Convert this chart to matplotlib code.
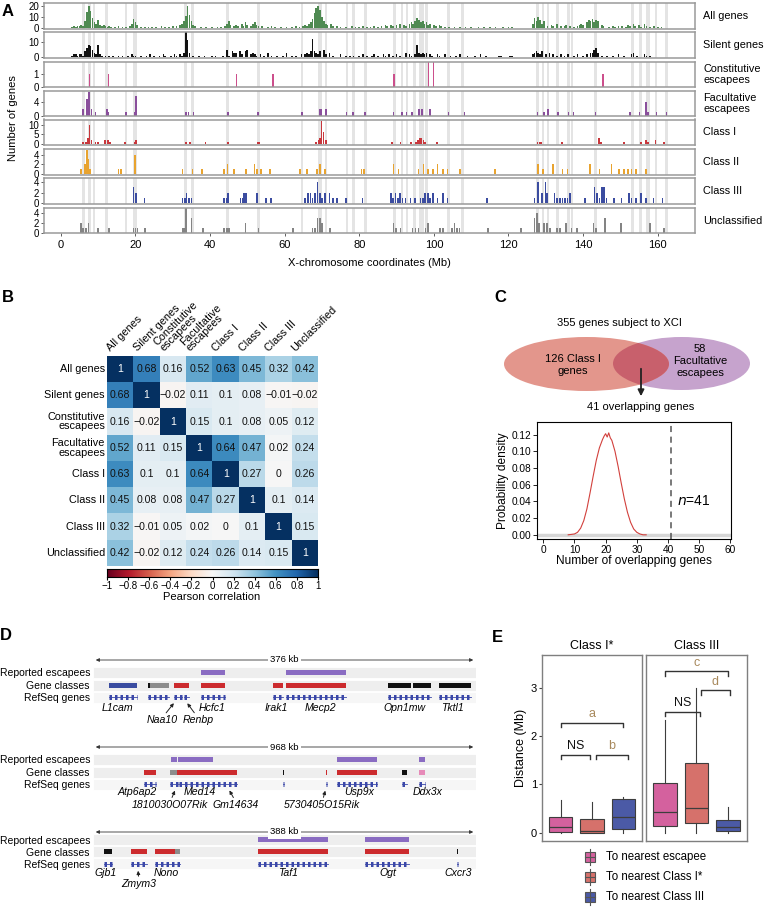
import numpy as np
import matplotlib
matplotlib.use('Agg')
import matplotlib.pyplot as plt
from matplotlib.patches import Ellipse, Rectangle

plt.rcParams['font.family'] = ['Liberation Sans', 'DejaVu Sans']

# ---------------------------------------------------------------- data: panel A
ALL_GENES = [(3.0,1),(3.5,2),(4.0,1),(4.5,2),(5.0,2),(5.5,3),(6.0,2),(6.5,6),(7.0,14),(7.5,20),(8.0,15),(8.5,9),(9.0,5),(9.5,4),(10.0,7),(10.5,3),(11.0,2),(11.5,3),(12.0,2),(12.5,1),(13.0,2),(13.5,1),(14.5,1),(15.5,2),(16.5,1),(17.5,1),(18.5,2),(19.0,4),(19.5,8),(20.0,5),(20.5,3),(21.5,1),(22.5,1),(23.5,1),(24.5,1),(25.5,1),(27.0,2),(28.0,1),(29.0,1),(30.0,2),(31.0,2),(32.0,3),(32.5,4),(33.0,6),(33.5,11),(34.0,20),(34.5,12),(35.0,6),(35.5,3),(36.0,2),(37.5,1),(39.0,1),(40.5,1),(42.0,1),(43.0,1),(44.0,2),(44.5,4),(45.0,6),(45.5,3),(46.5,2),(47.0,3),(47.5,2),(48.5,4),(49.0,2),(49.5,5),(50.0,3),(51.0,2),(51.5,4),(52.0,5),(52.5,3),(53.0,2),(54.0,2),(55.5,1),(56.5,2),(57.5,1),(59.0,1),(60.5,1),(62.0,1),(63.0,2),(64.0,1),(65.0,2),(65.5,3),(66.0,2),(66.5,4),(67.0,5),(67.5,8),(68.0,13),(68.5,18),(69.0,20),(69.5,16),(70.0,10),(70.5,6),(71.0,4),(71.5,3),(72.5,4),(73.0,2),(74.0,2),(75.0,1),(76.5,1),(78.0,2),(79.0,1),(80.0,1),(81.0,2),(82.0,1),(83.0,1),(84.0,2),(85.0,1),(86.0,2),(87.0,3),(87.5,2),(88.5,3),(89.0,2),(90.0,3),(91.0,4),(92.0,3),(92.5,2),(93.5,4),(94.0,5),(94.5,4),(95.0,6),(95.5,9),(96.0,7),(96.5,5),(97.0,6),(97.5,4),(98.0,5),(98.5,3),(99.0,4),(100.0,3),(100.5,2),(101.5,3),(102.0,2),(103.0,1),(104.0,1),(105.5,1),(107.0,1),(108.5,1),(110.0,1),(112.0,1),(113.5,1),(115.0,1),(116.5,1),(118.5,1),(120.0,1),(121.0,1),(126.5,4),(127.0,9),(127.5,6),(128.0,10),(128.5,7),(129.0,4),(129.5,6),(130.5,2),(131.5,3),(132.0,2),(133.0,4),(134.0,2),(135.0,2),(135.5,3),(136.5,2),(137.5,1),(138.5,2),(139.0,3),(139.5,4),(140.0,3),(141.0,5),(141.5,7),(142.0,6),(142.5,8),(143.0,5),(143.5,7),(144.0,6),(145.0,3),(145.5,2),(147.0,1),(148.0,2),(148.5,1),(149.5,2),(150.5,2),(151.5,1),(152.0,3),(152.5,2),(153.5,4),(154.0,2),(155.0,3),(155.5,1),(156.5,4),(157.0,2),(158.0,1),(159.0,2),(160.0,1),(161.0,1)]
SILENT_GENES = [(3.0,1),(3.5,2),(4.0,2),(4.5,1),(5.0,2),(5.5,2),(6.0,1),(6.5,4),(7.0,6),(7.5,8),(8.0,7),(8.5,5),(9.0,3),(9.5,2),(10.0,8),(10.5,2),(11.0,1),(12.0,1),(13.0,1),(14.0,1),(15.5,1),(16.5,1),(18.0,1),(19.0,2),(19.5,1),(20.0,1),(21.5,1),(23.0,1),(24.0,2),(25.0,1),(26.5,1),(27.5,2),(28.0,1),(29.5,1),(30.5,2),(31.0,1),(32.0,2),(32.5,1),(33.0,3),(33.5,16),(34.0,11),(34.5,3),(35.5,1),(37.0,1),(38.5,1),(40.5,1),(41.5,1),(43.5,1),(44.5,5),(45.0,1),(46.0,4),(46.5,3),(47.0,3),(48.0,4),(48.5,2),(49.5,4),(50.0,5),(51.0,2),(51.5,3),(52.0,2),(52.5,1),(53.5,2),(54.5,1),(55.5,3),(56.5,1),(58.0,1),(59.5,1),(60.5,3),(62.0,1),(63.0,1),(64.5,2),(65.5,2),(66.0,3),(66.5,2),(67.0,4),(67.5,12),(68.0,4),(68.5,3),(69.0,2),(69.5,4),(70.5,5),(71.0,2),(72.0,3),(73.0,1),(75.0,2),(76.5,1),(77.5,1),(78.5,1),(80.0,1),(81.0,2),(82.0,1),(83.5,1),(84.0,2),(85.0,1),(86.5,2),(87.0,1),(88.0,2),(89.0,1),(90.0,2),(91.0,1),(92.5,3),(93.5,2),(94.0,1),(95.0,2),(95.5,8),(96.0,3),(96.5,2),(97.0,3),(97.5,2),(98.0,3),(99.0,2),(99.5,1),(101.0,2),(101.5,1),(103.0,2),(104.5,1),(106.0,1),(107.0,2),(109.0,1),(111.0,1),(112.5,2),(114.0,1),(117.5,1),(118.0,1),(120.5,1),(121.0,1),(126.5,2),(127.0,3),(127.5,4),(128.0,3),(128.5,2),(129.0,4),(130.0,2),(131.0,3),(132.0,2),(133.0,1),(134.0,2),(135.0,1),(136.0,2),(137.5,1),(138.5,2),(140.0,1),(141.0,2),(142.0,3),(142.5,3),(143.0,5),(143.5,6),(144.0,3),(145.0,1),(146.5,1),(148.0,1),(149.5,2),(151.0,1),(153.0,2),(153.5,3),(154.5,1),(156.5,2),(157.0,1),(158.0,1)]
CONSTITUTIVE = [(7.7,1),(12.8,1),(47.1,1),(56.8,1),(89.4,1),(98.6,2),(99.9,2),(145.3,1)]
FACULTATIVE = [(6.0,2),(7.0,5),(7.6,7),(8.2,2),(9.3,1),(12.3,2),(12.8,1),(17.5,1),(19.8,1),(20.2,6),(33.6,1),(34.2,1),(35.6,1),(44.8,1),(52.9,1),(64.7,1),(69.5,2),(69.9,2),(71.0,2),(76.6,1),(78.3,1),(81.6,1),(89.2,1),(91.4,1),(92.7,1),(94.1,1),(96.0,2),(96.9,2),(99.0,2),(103.9,1),(108.2,1),(127.8,1),(129.5,1),(130.6,2),(133.2,1),(136.1,1),(137.4,1),(143.3,1),(152.5,1),(155.1,1),(156.9,4),(157.4,1),(159.7,1),(162.4,1)]
CLASS_I = [(6.0,1),(6.8,1),(7.3,3),(7.7,10),(8.2,2),(9.3,1),(10.0,1),(11.9,2),(12.6,2),(13.2,1),(17.2,1),(19.8,1),(20.2,2),(33.6,1),(34.6,1),(38.8,1),(44.8,1),(52.9,1),(53.3,1),(68.4,1),(69.1,2),(69.5,3),(69.9,12),(70.4,6),(71.0,2),(88.8,1),(91.1,1),(93.8,1),(95.3,1),(95.8,2),(96.2,3),(96.7,3),(97.2,2),(97.7,1),(100.8,1),(127.8,1),(128.3,1),(128.8,1),(134.4,1),(144.3,3),(144.8,1),(150.9,1),(155.5,1),(156.9,2),(157.4,1),(159.4,2),(161.7,1)]
CLASS_II = [(5.4,1),(6.5,2),(7.0,5),(7.4,3),(7.9,1),(15.5,1),(16.2,1),(19.9,4),(32.6,1),(35.3,1),(37.9,1),(43.8,1),(44.7,2),(46.5,1),(49.7,1),(51.9,2),(52.6,1),(53.7,1),(56.0,1),(64.2,1),(66.0,1),(68.6,1),(69.4,2),(70.8,1),(80.6,1),(81.3,1),(89.2,2),(90.5,1),(95.9,1),(97.2,2),(98.5,1),(99.8,1),(101.0,2),(102.4,1),(103.7,1),(107.0,1),(116.4,1),(127.9,2),(129.2,1),(131.9,2),(134.5,1),(135.8,1),(141.8,2),(144.4,1),(147.6,2),(149.6,1),(151.0,1),(152.0,1),(153.0,1),(154.2,1),(156.9,1)]
CLASS_III = [(19.5,3),(20.2,2),(22.4,1),(32.6,1),(33.3,1),(33.7,2),(34.3,1),(35.0,1),(43.8,1),(44.5,1),(44.9,2),(48.2,1),(48.7,1),(49.2,2),(49.7,2),(52.6,2),(55.0,1),(56.3,1),(65.5,1),(66.2,2),(66.9,2),(67.5,1),(68.1,2),(68.8,4),(69.4,2),(70.1,1),(70.8,2),(72.0,2),(73.0,1),(74.0,1),(76.4,1),(80.9,1),(88.5,2),(89.1,1),(89.7,2),(90.3,1),(90.9,2),(91.6,1),(92.4,1),(93.7,1),(95.0,1),(96.4,1),(97.0,1),(97.7,2),(98.4,2),(99.0,1),(99.7,2),(101.0,1),(102.4,2),(103.7,1),(114.2,1),(127.0,1),(127.9,4),(129.0,2),(129.9,4),(130.3,2),(132.3,2),(133.1,1),(133.9,1),(134.5,1),(135.1,1),(135.8,1),(136.5,2),(140.5,1),(143.1,3),(143.7,2),(144.4,1),(145.0,3),(145.6,3),(146.3,1),(148.3,1),(150.3,1),(152.3,2),(153.0,1),(154.2,1),(155.6,2),(156.9,1),(158.9,1),(161.3,1)]
UNCLASSIFIED = [(5.4,2),(5.9,1),(6.7,1),(7.4,2),(10.0,1),(12.9,1),(19.5,1),(20.0,1),(20.6,1),(22.6,1),(32.6,1),(33.1,1),(33.6,5),(35.0,3),(38.2,1),(43.8,1),(44.5,1),(45.1,1),(49.5,2),(53.0,1),(62.2,1),(67.5,1),(68.2,1),(68.8,3),(69.4,3),(70.1,2),(72.2,1),(89.2,2),(89.8,1),(91.1,1),(94.3,1),(95.1,1),(95.9,1),(97.8,1),(98.4,2),(101.7,1),(102.4,1),(104.9,1),(105.5,2),(106.2,1),(106.9,1),(114.6,1),(123.4,1),(127.0,3),(127.6,4),(128.2,2),(129.5,2),(130.3,2),(131.2,1),(133.0,1),(133.9,1),(135.5,2),(136.9,1),(138.4,1),(142.8,2),(143.5,1),(145.8,3),(150.1,2),(158.0,2),(161.7,1)]
# grey highlight bands (centre Mb, width Mb)
BANDS = [(6.0,0.8),(7.7,0.9),(8.9,0.6),(12.3,0.8),(17.5,0.7),(20.0,1.1),(33.3,0.8),(35.2,0.8),(44.8,0.8),(52.9,0.8),(64.7,0.7),(69.6,1.1),(71.0,0.6),(76.7,0.7),(78.5,0.7),(81.6,0.7),(89.4,0.7),(91.4,0.6),(92.7,0.6),(94.7,0.8),(96.7,1.3),(98.0,0.6),(103.9,0.8),(107.8,0.8),(127.8,0.7),(129.3,0.6),(130.6,0.6),(133.2,0.7),(136.1,0.6),(137.1,0.6),(143.3,0.7),(153.2,0.7),(155.5,0.8),(157.4,1.2),(159.5,0.7),(162.4,0.7)]
TRACK_NAMES = ['All genes', 'Silent genes', 'Constitutive\nescapees', 'Facultative\nescapees',
               'Class I', 'Class II', 'Class III', 'Unclassified']
TRACK_DATA = [ALL_GENES, SILENT_GENES, CONSTITUTIVE, FACULTATIVE, CLASS_I, CLASS_II, CLASS_III, UNCLASSIFIED]
TRACK_COLORS = ['#4f8a52', '#111111', '#cc4f8c', '#8a4f9c', '#c8373c', '#e8a32f', '#3b4ca0', '#848484']
TRACK_YMAX = [22, 16, 2, 7.5, 12.6, 5.2, 4.7, 5]
TRACK_YTICKS = [[0, 10, 20], [0, 10], [0, 1], [0, 4], [0, 5, 10], [0, 2, 4], [0, 2, 4], [0, 2, 4]]
XTICKS_A = [0, 20, 40, 60, 80, 100, 120, 140, 160]

# ---------------------------------------------------------------- data: panel B
CORR_LABELS = ['All genes', 'Silent genes', 'Constitutive\nescapees', 'Facultative\nescapees',
               'Class I', 'Class II', 'Class III', 'Unclassified']
CORR = [[1, 0.68, 0.16, 0.52, 0.63, 0.45, 0.32, 0.42],
        [0.68, 1, -0.02, 0.11, 0.1, 0.08, -0.01, -0.02],
        [0.16, -0.02, 1, 0.15, 0.1, 0.08, 0.05, 0.12],
        [0.52, 0.11, 0.15, 1, 0.64, 0.47, 0.02, 0.24],
        [0.63, 0.1, 0.1, 0.64, 1, 0.27, 0, 0.26],
        [0.45, 0.08, 0.08, 0.47, 0.27, 1, 0.1, 0.14],
        [0.32, -0.01, 0.05, 0.02, 0, 0.1, 1, 0.15],
        [0.42, -0.02, 0.12, 0.24, 0.26, 0.14, 0.15, 1]]
CBAR_TICKS = [-1, -0.8, -0.6, -0.4, -0.2, 0, 0.2, 0.4, 0.6, 0.8, 1]

# ---------------------------------------------------------------- data: panel C
N_SUBJECT = 355
N_CLASS_I = 126
N_FACULTATIVE = 58
N_OVERLAP = 41
DENS_X = [8, 10, 11, 12, 13, 14, 15, 16, 17, 18, 19, 19.5, 20, 20.5, 21, 21.5, 22, 23, 24, 25, 26, 27, 28, 29, 30, 31, 32, 33]
DENS_Y = [0.0, 0.001, 0.003, 0.008, 0.017, 0.031, 0.05, 0.07, 0.089, 0.104, 0.114, 0.118, 0.121, 0.117,
          0.122, 0.116, 0.113, 0.1, 0.082, 0.062, 0.043, 0.027, 0.015, 0.007, 0.003, 0.001, 0.0, 0.0]

# ---------------------------------------------------------------- data: panel D (kb within window)
WIN_KB = [376, 968, 388]
ESCAPEES = [[(105, 129), (189, 249)],
            [(194, 210), (212, 301), (618, 720), (827, 843)],
            [(167, 238), (276, 321)]]
CLASSES = [[(14, 42, 'III'), (53, 55, 'S'), (55, 73, 'U'), (78, 93, 'I'), (105, 129, 'I'), (177, 187, 'I'),
            (189, 249, 'I'), (291, 313, 'S'), (315, 333, 'S'), (341, 373, 'S')],
           [(125, 156, 'I'), (192, 210, 'U'), (210, 363, 'I'), (479, 482, 'S'), (589, 592, 'I'),
            (618, 720, 'I'), (784, 797, 'S'), (827, 843, 'C')],
           [(9, 17, 'S'), (37, 53, 'I'), (62, 82, 'I'), (82, 87, 'U'), (167, 238, 'I'), (276, 321, 'I'),
            (370, 372, 'S')]]
REFSEQ = [[(14, 42), (53, 73), (78, 86), (88, 93), (105, 129), (177, 187), (189, 249), (291, 333), (341, 373)],
          [(125, 156), (192, 212), (214, 300), (300, 363), (479, 482), (589, 592), (618, 720), (784, 797), (827, 843)],
          [(9, 17), (37, 53), (62, 87), (167, 238), (276, 321), (370, 372)]]
# (name, label position kb, row, arrow target kb or None)
GENE_LABELS = [[('L1cam', 22, 1, None), ('Hcfc1', 116, 1, None), ('Irak1', 180, 1, None), ('Mecp2', 224, 1, None),
                ('Opn1mw', 307, 1, None), ('Tktl1', 355, 1, None), ('Naa10', 67, 2, 80), ('Renbp', 102, 2, 90)],
               [('Atp6ap2', 107, 1, None), ('Med14', 268, 1, None), ('Usp9x', 674, 1, None), ('Ddx3x', 850, 1, None),
                ('1810030O07Rik', 192, 2, 207), ('Gm14634', 360, 2, 340), ('5730405O15Rik', 580, 2, 590)],
               [('Gjb1', 11, 1, None), ('Nono', 73, 1, None), ('Taf1', 198, 1, None), ('Ogt', 300, 1, None),
                ('Cxcr3', 372, 1, None), ('Zmym3', 45, 2, 44)]]
CLASS_COLORS = {'I': '#cc2b2e', 'III': '#3a4ca0', 'S': '#111111', 'U': '#8c8c8c', 'C': '#e68ab8'}

# ---------------------------------------------------------------- data: panel E
FACETS = ['Class I*', 'Class III']
GROUPS = ['To nearest escapee', 'To nearest Class I*', 'To nearest Class III']
GROUP_COLORS = ['#d4619e', '#d6716b', '#4b5aa6']
# whislo, q1, med, q3, whishi
BOX_STATS = [[[0, 0.02, 0.12, 0.32, 0.68], [0, 0.0, 0.03, 0.28, 0.63], [0, 0.08, 0.33, 0.69, 0.75]],
             [[0, 0.15, 0.43, 1.04, 2.33], [0, 0.21, 0.51, 1.44, 3.0], [0, 0.03, 0.12, 0.26, 0.54]]]
# facet, x1, x2, y, label
BRACKETS = [(0, 1, 3, 2.28, 'a'), (0, 1, 1.95, 1.62, 'NS'), (0, 2.12, 3.15, 1.62, 'b'),
            (1, 1, 3, 3.34, 'c'), (1, 2.13, 3.06, 2.95, 'd'), (1, 1, 2.1, 2.51, 'NS')]

# ================================================================ figure
W, H = 767, 908
fig = plt.figure(figsize=(W / 100, H / 100), dpi=100)


def add_ax(l, t, r, b):
    return fig.add_axes([l / W, 1 - b / H, (r - l) / W, (b - t) / H])


def ftext(x, y, s, **kw):
    return fig.text(x / W, 1 - y / H, s, **kw)


# ---------------------------------------------------------------- panel A
tops = [3.3, 32.5, 61.8, 90.8, 119.5, 149.0, 178.4, 207.8]
for i, (name, data, col, ymax, yt) in enumerate(zip(TRACK_NAMES, TRACK_DATA, TRACK_COLORS, TRACK_YMAX, TRACK_YTICKS)):
    ax = add_ax(44, tops[i], 695, tops[i] + 25.5)
    for c, w in BANDS:
        ax.axvspan(c - w / 2, c + w / 2, color='#e4e4e4', lw=0, zorder=0)
    pos = [p for p, n in data]
    cnt = [n for p, n in data]
    ax.bar(pos, cnt, width=0.45, color=col, lw=0, zorder=2)
    ax.set_xlim(-4.5, 170)
    ax.set_ylim(-ymax * 0.03, ymax)
    ax.set_yticks(yt)
    ax.tick_params(axis='y', labelsize=7, length=2.5, width=0.6, pad=1, color='#444')
    for s in ax.spines.values():
        s.set_color('#9a9a9a')
        s.set_linewidth(1.1)
    ax.text(1.013, 0.5, name, transform=ax.transAxes, va='center', ha='left', fontsize=7.8,
            linespacing=1.05)
    if i < len(TRACK_NAMES) - 1:
        ax.set_xticks([])
    else:
        ax.set_xticks(XTICKS_A)
        ax.tick_params(axis='x', labelsize=8, length=2.5, width=0.6, pad=2, color='#444')
        ax.set_xlabel('X-chromosome coordinates (Mb)', fontsize=8, labelpad=6)
ftext(13, 118, 'Number of genes', rotation=90, va='center', ha='center', fontsize=8)

# ---------------------------------------------------------------- panel B
corr = np.array(CORR, dtype=float)
axh = add_ax(107, 356, 318, 566)
axh.imshow(corr, cmap='RdBu', vmin=-1, vmax=1, aspect='auto', interpolation='nearest')
for r in range(corr.shape[0]):
    for c in range(corr.shape[1]):
        v = corr[r, c]
        s = ('%g' % v).replace('-', '\u2212')
        axh.text(c, r, s, ha='center', va='center', fontsize=7.6,
                 color='white' if abs(v) > 0.7 else '#111111')
axh.set_xticks([])
axh.set_yticks([])
for s in axh.spines.values():
    s.set_visible(False)
for r, lab in enumerate(CORR_LABELS):
    axh.text(-0.58, r, lab, ha='right', va='center', fontsize=7.8, linespacing=0.92)
for c, lab in enumerate(CORR_LABELS):
    axh.text(c - 0.3, -0.6, lab, ha='left', va='bottom', rotation=45, rotation_mode='anchor',
             fontsize=7.8, linespacing=0.85)
axc = add_ax(107, 569, 318, 577)
grad = np.linspace(-1, 1, 256)[None, :]
axc.imshow(grad, cmap='RdBu', vmin=-1, vmax=1, aspect='auto', extent=(-1, 1, 0, 1))
axc.set_yticks([])
axc.set_xticks(CBAR_TICKS)
axc.set_xticklabels([('%g' % t).replace('-', '\u2212') for t in CBAR_TICKS])
axc.tick_params(axis='x', labelsize=7, length=2, pad=1)
for s in axc.spines.values():
    s.set_linewidth(0.8)
ftext(212, 597, 'Pearson correlation', ha='center', va='center', fontsize=8)

# ---------------------------------------------------------------- panel C venn
axv = add_ax(480, 310, 767, 415)
axv.set_xlim(480, 767)
axv.set_ylim(415, 310)
axv.axis('off')
pur = Ellipse((681.5, 363.5), 137, 53, facecolor='#c6a3cd', edgecolor='none')
red = Ellipse((586.5, 364), 165, 54, facecolor='#e3968c', edgecolor='none')
ov = Ellipse((586.5, 364), 165, 54, facecolor='#c8606c', edgecolor='none')
axv.add_patch(pur)
axv.add_patch(red)
axv.add_patch(ov)
ov.set_clip_path(pur)
axv.text(619, 323, '%d genes subject to XCI' % N_SUBJECT, ha='center', va='center', fontsize=8)
axv.text(573, 365, '%d Class I\ngenes' % N_CLASS_I, ha='center', va='center', fontsize=8, linespacing=1.25)
axv.text(700, 361, '%d\nFacultative\nescapees' % N_FACULTATIVE, ha='center', va='center', fontsize=8,
         linespacing=1.2)
axv.annotate('', xy=(641, 399), xytext=(641, 366),
             arrowprops=dict(arrowstyle='-|>', color='#222222', lw=1.3, mutation_scale=9))
axv.text(641, 407, '%d overlapping genes' % N_OVERLAP, ha='center', va='center', fontsize=8)

# ---------------------------------------------------------------- panel C density
axd = add_ax(537, 422, 731, 539)
axd.axhline(0, color='#d6d6d6', lw=2.5, zorder=0)
axd.plot(DENS_X, DENS_Y, color='#d2403c', lw=0.8)
axd.axvline(N_OVERLAP, color='#555555', lw=1.1, ls=(0, (4, 3)))
axd.text(N_OVERLAP + 1.8, 0.04, r'$\it{n}$=%d' % N_OVERLAP, fontsize=10, va='center', ha='left')
axd.set_xlim(-2, 60.2)
axd.set_ylim(-0.005, 0.135)
axd.set_xticks([0, 10, 20, 30, 40, 50, 60])
axd.set_yticks([0, 0.02, 0.04, 0.06, 0.08, 0.10, 0.12])
axd.set_yticklabels(['%.2f' % t for t in [0, 0.02, 0.04, 0.06, 0.08, 0.10, 0.12]])
axd.tick_params(labelsize=7.3, length=3, width=0.6, pad=1)
axd.set_xlabel('Number of overlapping genes', fontsize=8.6, labelpad=0)
axd.set_ylabel('Probability density', fontsize=8.6, labelpad=2)
for s in axd.spines.values():
    s.set_linewidth(0.8)

# ---------------------------------------------------------------- panel D
block_rows = [(660, 672, 685, 697, 708, 720), (747, 759, 772, 784, 792, 805), (832, 840, 852, 864, 873, 884)]
for b in range(3):
    ay, ey, cy, ry, ny1, ny2 = block_rows[b]
    span = WIN_KB[b]
    axb = add_ax(93, ay - 6, 476, ny2 + 8)
    axb.set_xlim(-0.005 * span, 1.005 * span)
    axb.set_ylim(ny2 + 8, ay - 6)
    axb.axis('off')
    for yy, colr in ((ey, '#eeeeee'), (cy, '#eeeeee'), (ry, '#f6f6f6')):
        axb.add_patch(Rectangle((-0.005 * span, yy - 5.5), 1.01 * span, 11, facecolor=colr, edgecolor='white',
                                lw=0.6, zorder=0))
    axb.annotate('', xy=(-0.005 * span, ay), xytext=(1.005 * span, ay),
                 arrowprops=dict(arrowstyle='<|-|>', color='#333333', lw=0.6, mutation_scale=5))
    axb.text(span / 2, ay, '%d kb' % span, ha='center', va='center', fontsize=6.8,
             bbox=dict(facecolor='white', edgecolor='none', pad=1.5))
    for x0, x1 in ESCAPEES[b]:
        axb.add_patch(Rectangle((x0, ey - 2.5), x1 - x0, 5, facecolor='#8a6cc2', edgecolor='none', zorder=2))
    for x0, x1, k in CLASSES[b]:
        axb.add_patch(Rectangle((x0, cy - 2.5), x1 - x0, 5, facecolor=CLASS_COLORS[k], edgecolor='none', zorder=2))
    for x0, x1 in REFSEQ[b]:
        axb.plot([x0, x1], [ry, ry], color='#3a47a8', lw=0.6, zorder=2)
        axb.plot([x0, x1], [ry, ry], color='#3a47a8', lw=3.6, ls=(0, (0.5, 0.6)), zorder=2,
                 solid_capstyle='butt')
    for name, xl, row, target in GENE_LABELS[b]:
        yy = ny1 if row == 1 else ny2
        axb.text(xl, yy, name, ha='center', va='center', fontsize=7.6, style='italic', clip_on=False)
        if target is not None:
            axb.annotate('', xy=(target, ry + 4), xytext=(xl + (target - xl) * 0.15, yy - 5),
                         arrowprops=dict(arrowstyle='-|>', color='#222222', lw=0.7, mutation_scale=5))
    for lab, yy in (('Reported escapees', ey), ('Gene classes', cy), ('RefSeq genes', ry)):
        ftext(90, yy + 1, lab, ha='right', va='center', fontsize=7.5)

# ---------------------------------------------------------------- panel E
facet_px = [(542, 642), (646, 747)]
for f in range(2):
    axe = add_ax(facet_px[f][0], 655, facet_px[f][1], 841)
    stats = []
    for g in range(3):
        lo, q1, med, q3, hi = BOX_STATS[f][g]
        stats.append(dict(whislo=lo, q1=q1, med=med, q3=q3, whishi=hi, fliers=[], label=GROUPS[g]))
    bp = axe.bxp(stats, positions=[1, 2, 3], widths=0.75, patch_artist=True, showfliers=False, showcaps=False,
                 boxprops=dict(edgecolor='#3d3d3d', linewidth=0.8),
                 medianprops=dict(color='#3d3d3d', linewidth=0.9),
                 whiskerprops=dict(color='#3d3d3d', linewidth=0.8))
    for patch, colr in zip(bp['boxes'], GROUP_COLORS):
        patch.set_facecolor(colr)
    axe.set_xlim(0.4, 3.6)
    axe.set_ylim(-0.17, 3.68)
    axe.set_xticks([])
    for s in axe.spines.values():
        s.set_color('#7f7f7f')
        s.set_linewidth(1.0)
    if f == 0:
        axe.set_yticks([0, 1, 2, 3])
        axe.tick_params(axis='y', labelsize=8, length=2, pad=1.5, color='#444')
        axe.set_ylabel('Distance (Mb)', fontsize=9, labelpad=3)
    else:
        axe.set_yticks([])
    axe.set_title(FACETS[f], fontsize=9, pad=4)
    for ff, x1, x2, yb, lab in BRACKETS:
        if ff != f:
            continue
        axe.plot([x1, x1, x2, x2], [yb - 0.1, yb, yb, yb - 0.1], color='#333333', lw=1.0)
        axe.text((x1 + x2) / 2, yb + 0.17, lab, ha='center', va='center', fontsize=9,
                 color='#111111' if lab == 'NS' else '#a8895c')

axl = add_ax(575, 845, 767, 908)
axl.set_xlim(575, 767)
axl.set_ylim(908, 845)
axl.axis('off')
for g, yy in enumerate([857, 877, 897]):
    axl.plot([590, 590], [yy - 8, yy + 8], color='#555555', lw=0.8)
    axl.add_patch(Rectangle((585, yy - 5), 10, 10, facecolor=GROUP_COLORS[g], edgecolor='#555555', lw=0.8))
    axl.plot([585, 595], [yy, yy], color='#555555', lw=0.8)
    axl.text(606, yy, GROUPS[g], ha='left', va='center', fontsize=8.3)

# ---------------------------------------------------------------- panel letters
for lab, x, y in (('A', 8, 12), ('B', 8, 298), ('C', 500, 298), ('D', 6, 636), ('E', 497, 637)):
    ftext(x, y, lab, fontsize=12, fontweight='bold', ha='center', va='center')

fig.savefig('out.png', dpi=100)
